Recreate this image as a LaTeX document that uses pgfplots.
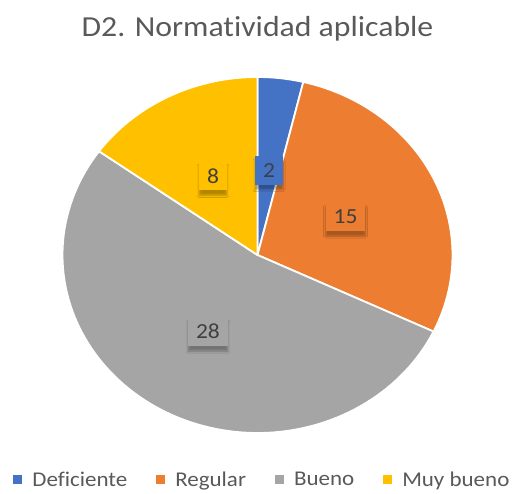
\documentclass[border=0pt]{standalone}
\usepackage{pgfplots}
\pgfplotsset{compat=1.18}
\usepackage{fontspec}
\setmainfont{Carlito}[FakeStretch=1.095, Ligatures={NoCommon}]
\usetikzlibrary{shadows.blur}
\definecolor{cBlue}{HTML}{4472C4}
\definecolor{cOrange}{HTML}{ED7D31}
\definecolor{cGray}{HTML}{A5A5A5}
\definecolor{cYellow}{HTML}{FFC000}
\definecolor{cText}{HTML}{595959}
\definecolor{cLbl}{HTML}{404040}
\begin{document}
\begin{tikzpicture}[x=1pt,y=1pt,
  lbl/.style={text=cLbl, font=\fontsize{21.5}{24}\selectfont, inner xsep=8pt, minimum height=29pt,
     blur shadow={shadow blur steps=6, shadow xshift=0pt, shadow yshift=-5pt, shadow opacity=30, shadow blur radius=2pt}}]
\useasboundingbox (0,0) rectangle (516,493);
\node[anchor=base, text=cText, font=\fontsize{29}{34}\selectfont] at (257.5,456) {D2. Normatividad aplicable};
\begin{axis}[hide axis, x=195pt, y=178pt, xmin=-1, xmax=1, ymin=-1, ymax=1,
  clip=false, at={(257.5pt,238pt)}, anchor=center,
  legend columns=4,
  legend image code/.code={\fill[#1, draw=none] (0pt,-4.5pt) rectangle (9pt,4.5pt);},
  legend style={at={(0.51,-0.132)}, anchor=center, draw=none, fill=none,
     font=\fontsize{21}{24}\selectfont, text=cText,
     nodes={inner sep=0pt},
     /tikz/every odd column/.append style={column sep=10pt},
     /tikz/every even column/.append style={column sep=29pt}},
  ]
\addplot[fill=cBlue, draw=white, line width=1.8pt, line join=round, domain=0:2, samples=12]
  ({sin(360*x/53)},{cos(360*x/53)}) -- (axis cs:0,0) -- cycle;
\addlegendentry{Deficiente}
\addplot[fill=cOrange, draw=white, line width=1.8pt, line join=round, domain=2:17, samples=60]
  ({sin(360*x/53)},{cos(360*x/53)}) -- (axis cs:0,0) -- cycle;
\addlegendentry{Regular}
\addplot[fill=cGray, draw=white, line width=1.8pt, line join=round, domain=17:45, samples=100]
  ({sin(360*x/53)},{cos(360*x/53)}) -- (axis cs:0,0) -- cycle;
\addlegendentry{Bueno}
\addplot[fill=cYellow, draw=white, line width=1.8pt, line join=round, domain=45:53, samples=35]
  ({sin(360*x/53)},{cos(360*x/53)}) -- (axis cs:0,0) -- cycle;
\addlegendentry{Muy bueno}
\node[lbl, fill=cBlue] at (axis cs:{0.5*sin(360*1/53)},{0.48*cos(360*1/53)}) {2};
\node[lbl, fill=cOrange] at (axis cs:{0.5*sin(360*9.5/53)},{0.5*cos(360*9.5/53)}) {15};
\node[lbl, fill=cGray] at (axis cs:{0.5*sin(360*31/53)},{0.5*cos(360*31/53)}) {28};
\node[lbl, fill=cYellow] at (axis cs:{0.5*sin(360*49/53)},{0.5*cos(360*49/53)}) {8};
\end{axis}
\end{tikzpicture}
\end{document}
